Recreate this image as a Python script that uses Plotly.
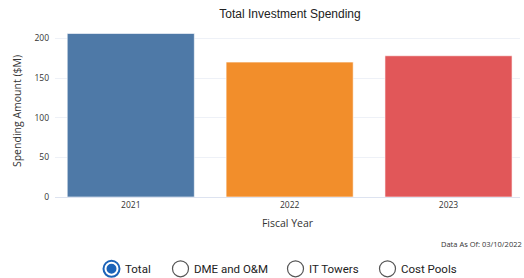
import plotly.graph_objects as go

years = ["2021", "2022", "2023"]
spending = [206.3, 170.2, 178.2]
colors = ["#4e79a7", "#f28e2b", "#e15759"]
radio_labels = ["Total", "DME and O&M", "IT Towers", "Cost Pools"]
radio_circle_px = [111.5, 180.5, 295.5, 387.5]
radio_selected = [True, False, False, False]

W, H = 524, 278
L, R, T, B = 55, 4, 24.5, 81
pw, ph = W - L - R, H - T - B

def px_x(px):
    return (px - L) / pw

def px_y(py):
    return (H - B - py) / ph

fig = go.Figure(go.Bar(
    x=years, y=spending, marker_color=colors,
    marker_line=dict(color="rgba(255,255,255,0.6)", width=1),
    hoverinfo="x+y",
))

fig.update_layout(
    width=W, height=H,
    margin=dict(l=L, r=R, t=T, b=B),
    plot_bgcolor="white", paper_bgcolor="white",
    bargap=0.2,
    showlegend=False,
    title=dict(text="Total Investment Spending", x=px_x(290), xref="paper", xanchor="center",
               y=1 - 14 / H, yanchor="middle",
               font=dict(family="Liberation Sans, Arial", size=12, color="#222")),
    font=dict(family="Open Sans, Noto Sans", size=10, color="#333"),
)
fig.update_xaxes(
    type="category", range=[-0.477, 2.45],
    showgrid=False, showline=True, linecolor="#dde3f0", linewidth=1,
    tickfont=dict(size=8.5, color="#333"),
    title=dict(text="Fiscal Year", font=dict(size=10.5, color="#333"), standoff=10),
)
fig.update_yaxes(
    range=[0, 217], tickvals=[0, 50, 100, 150, 200],
    showgrid=True, gridcolor="#eef1f7", gridwidth=1,
    zeroline=False, showline=False,
    tickfont=dict(size=8.5, color="#333"),
    ticks="", ticklabelstandoff=5,
    title=dict(text="Spending Amount ($M)", font=dict(size=10.5, color="#333"), standoff=10),
)

fig.add_annotation(text="Data As Of: 03/10/2022", xref="paper", yref="paper",
                   x=px_x(524), y=px_y(244), xanchor="right", yanchor="middle",
                   showarrow=False, font=dict(size=7.5, color="#333"))

cy = px_y(269)
for lab, cx, sel in zip(radio_labels, radio_circle_px, radio_selected):
    xa = px_x(cx)
    if sel:
        fig.add_shape(type="circle", xref="paper", yref="paper", xsizemode="pixel", ysizemode="pixel",
                      xanchor=xa, yanchor=cy, x0=-8, x1=8, y0=-8, y1=8,
                      line=dict(color="#1b63b8", width=2), fillcolor="white")
        fig.add_shape(type="circle", xref="paper", yref="paper", xsizemode="pixel", ysizemode="pixel",
                      xanchor=xa, yanchor=cy, x0=-5, x1=5, y0=-5, y1=5,
                      line=dict(width=0), fillcolor="#1b63b8")
    else:
        fig.add_shape(type="circle", xref="paper", yref="paper", xsizemode="pixel", ysizemode="pixel",
                      xanchor=xa, yanchor=cy, x0=-8, x1=8, y0=-8, y1=8,
                      line=dict(color="#555", width=1.2), fillcolor="white")
    fig.add_annotation(text=lab, xref="paper", yref="paper", x=px_x(cx + 11), y=cy,
                       xanchor="left", yanchor="middle", showarrow=False,
                       font=dict(family="Roboto", size=11.5, color="#222"))

fig.write_html("out.html", config={"displayModeBar": False},
               post_script="document.body.style.margin='0';document.body.style.overflow='hidden';")
